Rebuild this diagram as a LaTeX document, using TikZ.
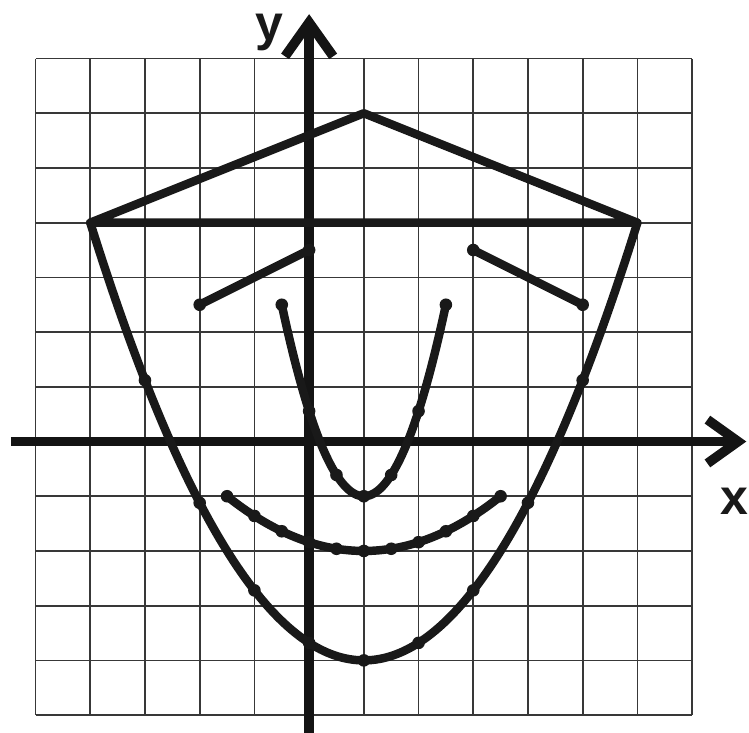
\documentclass[tikz,border=0pt]{standalone}
\usepackage{fontspec}
\setmainfont{Liberation Sans}
\begin{document}
\begin{tikzpicture}[x=1cm,y=1cm,
  gridline/.style={line width=0.9pt, draw=black!78},
  axisline/.style={line width=5pt, draw=black!92},
  chevron/.style={line width=5pt, draw=black!92, line join=miter, line cap=butt},
  curve/.style={line width=4.4pt, draw=black!90, line cap=round, line join=round},
  dotmark/.style={fill=black!90},
  lab/.style={font=\bfseries\fontsize{26}{30}\selectfont, text=black!90, inner sep=0pt}]
\useasboundingbox (-5.65,-5.31) rectangle (8.04,8.07);
% grid
\draw[gridline] (-5,-5) grid (7,7);
% axes
\draw[axisline] (-5.45,0) -- (7.75,0);
\draw[chevron] (7.28,0.40) -- (7.84,0) -- (7.28,-0.40);
\draw[axisline] (0,-5.4) -- (0,7.6);
\draw[chevron] (-0.44,7.04) -- (0,7.66) -- (0.44,7.04);
\node[lab] (ylab) at (-0.73,7.48) {y};
\node[lab] (xlab) at (7.77,-1.10) {x};
% roof
\draw[curve] (-4,4) -- (1,6) -- (6,4) -- cycle;
% big parabola
\draw[curve] plot[domain=-4:6, samples=120, smooth] (\x, {0.32*(\x-1)*(\x-1)-4});
\foreach \t in {-3,-2,-1,0,1,2,3,4,5}
  \fill[dotmark] (\t, {0.32*(\t-1)*(\t-1)-4}) circle (0.115);
% eyebrows
\draw[curve] (-2,2.5) -- (0,3.5);
\fill[dotmark] (-2,2.5) circle (0.115) (0,3.5) circle (0.115);
\draw[curve] (3,3.5) -- (5,2.5);
\fill[dotmark] (3,3.5) circle (0.115) (5,2.5) circle (0.115);
% nose parabola
\draw[curve] plot[domain=-0.5:2.5, samples=80, smooth] (\x, {14/9*(\x-1)*(\x-1)-1});
\foreach \t in {-0.5,0,0.5,1,1.5,2,2.5}
  \fill[dotmark] (\t, {14/9*(\t-1)*(\t-1)-1}) circle (0.115);
% mouth parabola
\draw[curve] plot[domain=-1.5:3.5, samples=80, smooth] (\x, {0.16*(\x-1)*(\x-1)-2});
\foreach \t in {-1.5,-1,-0.5,0,0.5,1,1.5,2,2.5,3,3.5}
  \fill[dotmark] (\t, {0.16*(\t-1)*(\t-1)-2}) circle (0.115);
\end{tikzpicture}
\end{document}
